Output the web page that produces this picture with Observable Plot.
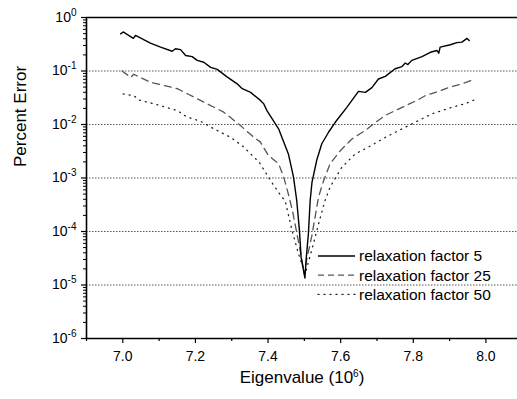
<!DOCTYPE html>
<html>
<head>
<meta charset="utf-8">
<script src="https://cdn.jsdelivr.net/npm/d3@7"></script>
<script src="https://cdn.jsdelivr.net/npm/@observablehq/plot@0.6"></script>
<style>
  body { margin: 0; background: #fff; }
  #wrap { position: relative; width: 517px; height: 399px; overflow: hidden; }
</style>
</head>
<body>
<div id="wrap"></div>
<script>
// relaxation factor 5 (solid)
const x5 = [6.994,7.001,7.015,7.029,7.035,7.076,7.104,7.136,7.145,7.159,7.173,7.191,7.205,7.223,7.242,7.26,7.288,7.315,7.329,7.352,7.379,7.388,7.397,7.429,7.456,7.470,7.479,7.4864,7.491,7.5016,7.5047,7.5111,7.516,7.521,7.534,7.548,7.567,7.585,7.617,7.649,7.668,7.686,7.704,7.723,7.75,7.769,7.778,7.785,7.796,7.824,7.847,7.865,7.870,7.874,7.902,7.92,7.934,7.948,7.954];
const y5 = [0.495,0.537,0.47,0.407,0.461,0.331,0.279,0.234,0.260,0.251,0.195,0.186,0.158,0.146,0.117,0.107,0.0767,0.0575,0.0468,0.0398,0.0282,0.0245,0.0182,0.0083,0.00282,0.00105,0.00038,0.000105,0.000033,0.0000135,0.000029,0.000091,0.00038,0.00083,0.00214,0.00437,0.00724,0.011,0.0209,0.0417,0.0398,0.049,0.0708,0.0794,0.11,0.121,0.141,0.132,0.158,0.186,0.224,0.242,0.215,0.279,0.309,0.339,0.347,0.407,0.372];
// relaxation factor 25 (dashed)
const x25 = [6.998,7.022,7.030,7.076,7.150,7.214,7.278,7.324,7.361,7.379,7.401,7.429,7.443,7.456,7.467,7.4885,7.500,7.506,7.52,7.539,7.553,7.571,7.599,7.631,7.668,7.69,7.723,7.769,7.81,7.833,7.87,7.897,7.934,7.969];
const y25 = [0.1,0.0759,0.087,0.0617,0.0468,0.0282,0.017,0.00955,0.00575,0.00468,0.00263,0.00186,0.00105,0.0005,0.00025,0.000044,0.000016,0.000029,0.000079,0.00044,0.00089,0.00186,0.00324,0.00537,0.00776,0.0102,0.0148,0.0209,0.0282,0.0347,0.0417,0.049,0.0575,0.0708];
// relaxation factor 50 (dotted)
const x50 = [7.001,7.03,7.044,7.085,7.15,7.177,7.214,7.251,7.297,7.333,7.361,7.375,7.41,7.438,7.447,7.466,7.484,7.498,7.502,7.525,7.539,7.557,7.571,7.603,7.64,7.677,7.723,7.769,7.805,7.851,7.906,7.943,7.975];
const y50 = [0.0372,0.0347,0.0288,0.0245,0.0182,0.0138,0.0115,0.0083,0.00575,0.0038,0.00245,0.002,0.00083,0.00044,0.00038,0.000105,0.000038,0.00002,0.000016,0.0000589,0.000138,0.00038,0.00068,0.00158,0.00282,0.0038,0.00575,0.0083,0.011,0.0158,0.0209,0.0245,0.0302];

const seriesNames = ["relaxation factor 5", "relaxation factor 25", "relaxation factor 50"];
const decades = [1, 1e-1, 1e-2, 1e-3, 1e-4, 1e-5, 1e-6];
const decadeExp = [0, -1, -2, -3, -4, -5, -6];
const gridDecades = [1e-1, 1e-2, 1e-3, 1e-4, 1e-5];
const xMajor = [7.0, 7.2, 7.4, 7.6, 7.8, 8.0];
const xMinor = [6.9, 7.1, 7.3, 7.5, 7.7, 7.9];

const s5 = x5.map((x, i) => ({x, y: y5[i]}));
const s25 = x25.map((x, i) => ({x, y: y25[i]}));
const s50 = x50.map((x, i) => ({x, y: y50[i]}));

const yMinor = [];
for (let e = -6; e < 0; e++) for (let m = 2; m <= 9; m++) yMinor.push(+(m * Math.pow(10, e)).toPrecision(3));

const FONT = "'Liberation Sans', Arial, sans-serif";
const lineStyles = [
  {stroke: "#000", dash: null, width: 1.4, cap: "butt"},
  {stroke: "#555", dash: "7,5", width: 1.3, cap: "butt"},
  {stroke: "#222", dash: "1,5", width: 1.3, cap: "round"}
];

const chart = Plot.plot({
  width: 517,
  height: 399,
  marginLeft: 86,
  marginRight: 0,
  marginTop: 17,
  marginBottom: 61,
  style: {fontFamily: FONT, fontSize: "14px", color: "#000", background: "#fff"},
  x: {domain: [6.9, 8.087]},
  y: {type: "log", domain: [1e-6, 1]},
  marks: [
    Plot.ruleY(gridDecades, {stroke: "#555", strokeWidth: 1, strokeDasharray: "1.5,1.5"}),
    Plot.line(s50, {x: "x", y: "y", stroke: lineStyles[2].stroke, strokeWidth: lineStyles[2].width, strokeDasharray: lineStyles[2].dash, strokeLinecap: "round"}),
    Plot.line(s25, {x: "x", y: "y", stroke: lineStyles[1].stroke, strokeWidth: lineStyles[1].width, strokeDasharray: lineStyles[1].dash}),
    Plot.line(s5, {x: "x", y: "y", stroke: lineStyles[0].stroke, strokeWidth: lineStyles[0].width}),
    Plot.ruleY([1, 1e-6], {stroke: "#000", strokeWidth: 1.6}),
    Plot.ruleX([6.9], {stroke: "#000", strokeWidth: 1.6}),
    Plot.axisX(xMajor, {tickSize: 5, tickPadding: 8, tickFormat: d3.format(".1f"), fontSize: 14, strokeWidth: 1.2, label: null}),
    Plot.axisX(xMinor, {tickSize: 3, tickFormat: () => "", strokeWidth: 1.2, label: null}),
    Plot.axisY(decades, {tickSize: 5, tickPadding: 5, tickFormat: (d) => "10^" + decadeExp[decades.indexOf(d)], fontSize: 14, strokeWidth: 1.2, label: null}),
    Plot.axisY(yMinor, {tickSize: 3, tickFormat: () => "", strokeWidth: 1, label: null}),
    Plot.text(["Percent Error"], {frameAnchor: "left", rotate: -90, dx: -66, dy: -11, fontSize: 17, fill: "#000"}),
    Plot.text(["Eigenvalue (10^6)"], {frameAnchor: "bottom", dy: 44, fontSize: 17, fill: "#000"})
  ]
});

// superscripts
d3.select(chart).selectAll("text").each(function() {
  const t = this.textContent;
  const m = t.match(/^(.*?)10\^(-?\d+)(.*)$/);
  if (!m) return;
  const sel = d3.select(this);
  const fs = parseFloat(sel.attr("font-size") || getComputedStyle(this).fontSize) || 14;
  sel.text(null);
  sel.append("tspan").text(m[1] + "10");
  sel.append("tspan").attr("font-size", Math.round(fs * 0.68)).attr("dy", "-0.6em").text(m[2]);
  if (m[3]) sel.append("tspan").attr("dy", "0.4em").text(m[3]);
});

// legend (inside the SVG)
const svg = d3.select(chart);
const lg = svg.append("g").attr("transform", "translate(318,256)").attr("text-anchor", "start");
seriesNames.forEach((name, i) => {
  const s = lineStyles[i];
  const row = lg.append("g").attr("transform", `translate(0,${i * 19.2})`);
  row.append("line").attr("x1", 0).attr("x2", 37).attr("y1", 0).attr("y2", 0)
    .attr("stroke", s.stroke).attr("stroke-width", 1.3)
    .attr("stroke-dasharray", s.dash ? (i === 1 ? "6,4" : "1,5") : null)
    .attr("stroke-linecap", s.cap);
  row.append("text").attr("x", 41).attr("y", 0).attr("dy", "0.35em")
    .attr("text-anchor", "start")
    .attr("font-size", 15.5).attr("font-family", FONT).attr("fill", "#000").text(name);
});

document.getElementById("wrap").appendChild(chart);
</script>
</body>
</html>
